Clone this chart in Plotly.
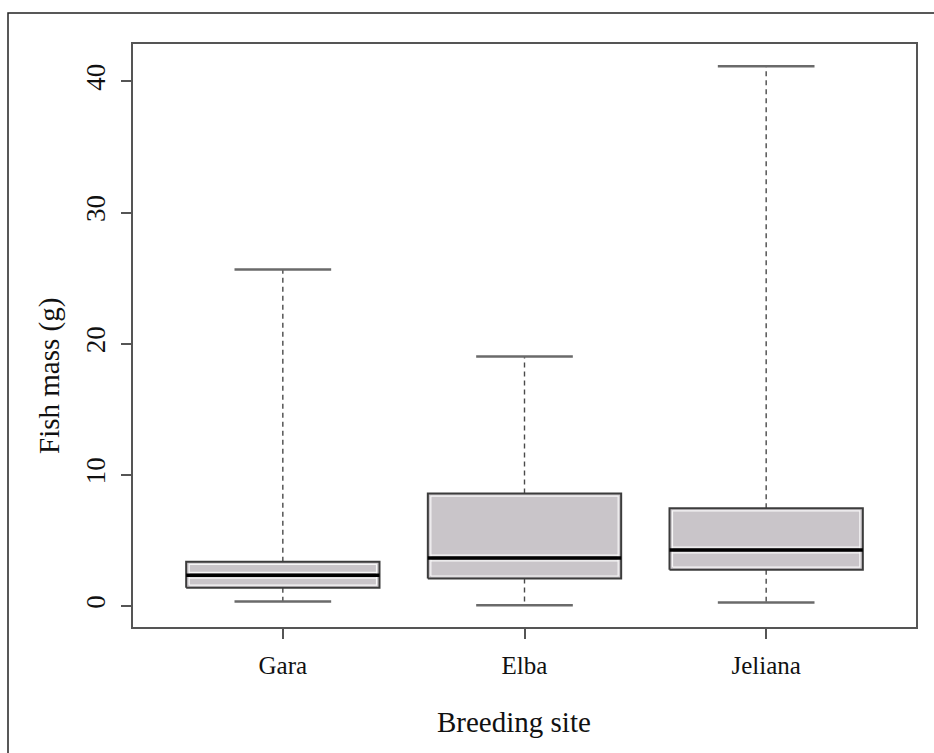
import plotly.graph_objects as go

sites = ["Gara", "Elba", "Jeliana"]
lower = [0.34, 0.05, 0.26]
q1 = [1.40, 2.09, 2.77]
median = [2.34, 3.66, 4.27]
q3 = [3.38, 8.58, 7.45]
upper = [25.66, 19.02, 41.16]
y_ticks = [0, 10, 20, 30, 40]

pos = [1, 2, 3]
half_box = 0.4
half_cap = 0.2
# inner white halo offsets (approx. 3 px in data units)
dx = 3 / 242.0
dy = 2.6 / 13.12

FONT = "Liberation Serif, Times New Roman, serif"

fig = go.Figure()

# whiskers (dashed)
wx, wy = [], []
for p, lo, a, b, hi in zip(pos, lower, q1, q3, upper):
    wx += [p, p, None, p, p, None]
    wy += [b, hi, None, a, lo, None]
fig.add_trace(go.Scatter(x=wx, y=wy, mode="lines",
                         line=dict(color="#4a4a4a", width=1.4, dash="5px,4px"),
                         hoverinfo="skip", showlegend=False))

# boxes
for p, a, m, b in zip(pos, q1, median, q3):
    fig.add_trace(go.Scatter(
        x=[p - half_box, p + half_box, p + half_box, p - half_box, p - half_box],
        y=[a, a, b, b, a], mode="lines", fill="toself",
        fillcolor="#C9C5C9", line=dict(color="#3c3c3c", width=2),
        hoverinfo="skip", showlegend=False))
    # white inner halo
    fig.add_trace(go.Scatter(
        x=[p - half_box + dx, p + half_box - dx, p + half_box - dx, p - half_box + dx, p - half_box + dx],
        y=[a + dy, a + dy, b - dy, b - dy, a + dy], mode="lines",
        line=dict(color="rgba(255,255,255,0.85)", width=1.2),
        hoverinfo="skip", showlegend=False))
    fig.add_trace(go.Scatter(
        x=[p - half_box + dx, p + half_box - dx, None, p - half_box + dx, p + half_box - dx],
        y=[m + dy * 1.1, m + dy * 1.1, None, m - dy * 1.1, m - dy * 1.1], mode="lines",
        line=dict(color="rgba(255,255,255,0.85)", width=1.2),
        hoverinfo="skip", showlegend=False))

# medians
mx, my = [], []
for p, m in zip(pos, median):
    mx += [p - half_box, p + half_box, None]
    my += [m, m, None]
fig.add_trace(go.Scatter(x=mx, y=my, mode="lines",
                         line=dict(color="#000000", width=3.5),
                         hoverinfo="skip", showlegend=False))

# caps
cx, cy = [], []
for p, lo, hi in zip(pos, lower, upper):
    cx += [p - half_cap, p + half_cap, None, p - half_cap, p + half_cap, None]
    cy += [hi, hi, None, lo, lo, None]
fig.add_trace(go.Scatter(x=cx, y=cy, mode="lines",
                         line=dict(color="#6a6a6a", width=2.5),
                         hoverinfo="skip", showlegend=False))

# outer figure border (partially cropped, like the reference)
L, R, T, B = 133, 18, 44, 126
W, H = 934, 753
pw, ph = W - L - R, H - T - B
fig.add_shape(type="rect", xref="paper", yref="paper",
              x0=(8 - L) / pw, x1=(W + 20 - L) / pw,
              y0=(H - B - (H + 20)) / ph, y1=(H - B - 13) / ph,
              line=dict(color="#222222", width=1.5), fillcolor="rgba(0,0,0,0)",
              layer="below")

# axis titles placed like the reference
fig.add_annotation(text="Breeding site", xref="paper", yref="paper",
                   x=(514 - L) / pw, y=(H - B - 722) / ph,
                   xanchor="center", yanchor="middle", showarrow=False,
                   font=dict(size=29, family=FONT, color="#111111"))
fig.add_annotation(text="Fish mass (g)", xref="paper", yref="paper",
                   x=(50 - L) / pw, y=(H - B - 376) / ph, textangle=-90,
                   xanchor="center", yanchor="middle", showarrow=False,
                   font=dict(size=29, family=FONT, color="#111111"))

fig.update_layout(
    width=W, height=H,
    margin=dict(l=L, r=R, t=T, b=B),
    paper_bgcolor="white", plot_bgcolor="white",
    font=dict(family=FONT, color="#111111"),
    xaxis=dict(
        range=[0.38, 3.62], tickmode="array", tickvals=pos, ticktext=sites,
        showgrid=False, zeroline=False, showline=True, mirror=True,
        linecolor="#555555", linewidth=1.6,
        ticks="outside", ticklen=10, tickwidth=1.6, tickcolor="#555555",
        tickfont=dict(size=25, family=FONT, color="#111111"),
        ticklabelstandoff=5,
    ),
    yaxis=dict(
        range=[-1.6, 42.85], tickmode="array", tickvals=y_ticks,
        ticktext=[str(v) for v in y_ticks], tickangle=-90,
        showgrid=False, zeroline=False, showline=True, mirror=True,
        linecolor="#555555", linewidth=1.6,
        ticks="outside", ticklen=10, tickwidth=1.6, tickcolor="#555555",
        tickfont=dict(size=27, family=FONT, color="#111111"),
        ticklabelstandoff=5,
    ),
)

fig.write_html("out.html")
